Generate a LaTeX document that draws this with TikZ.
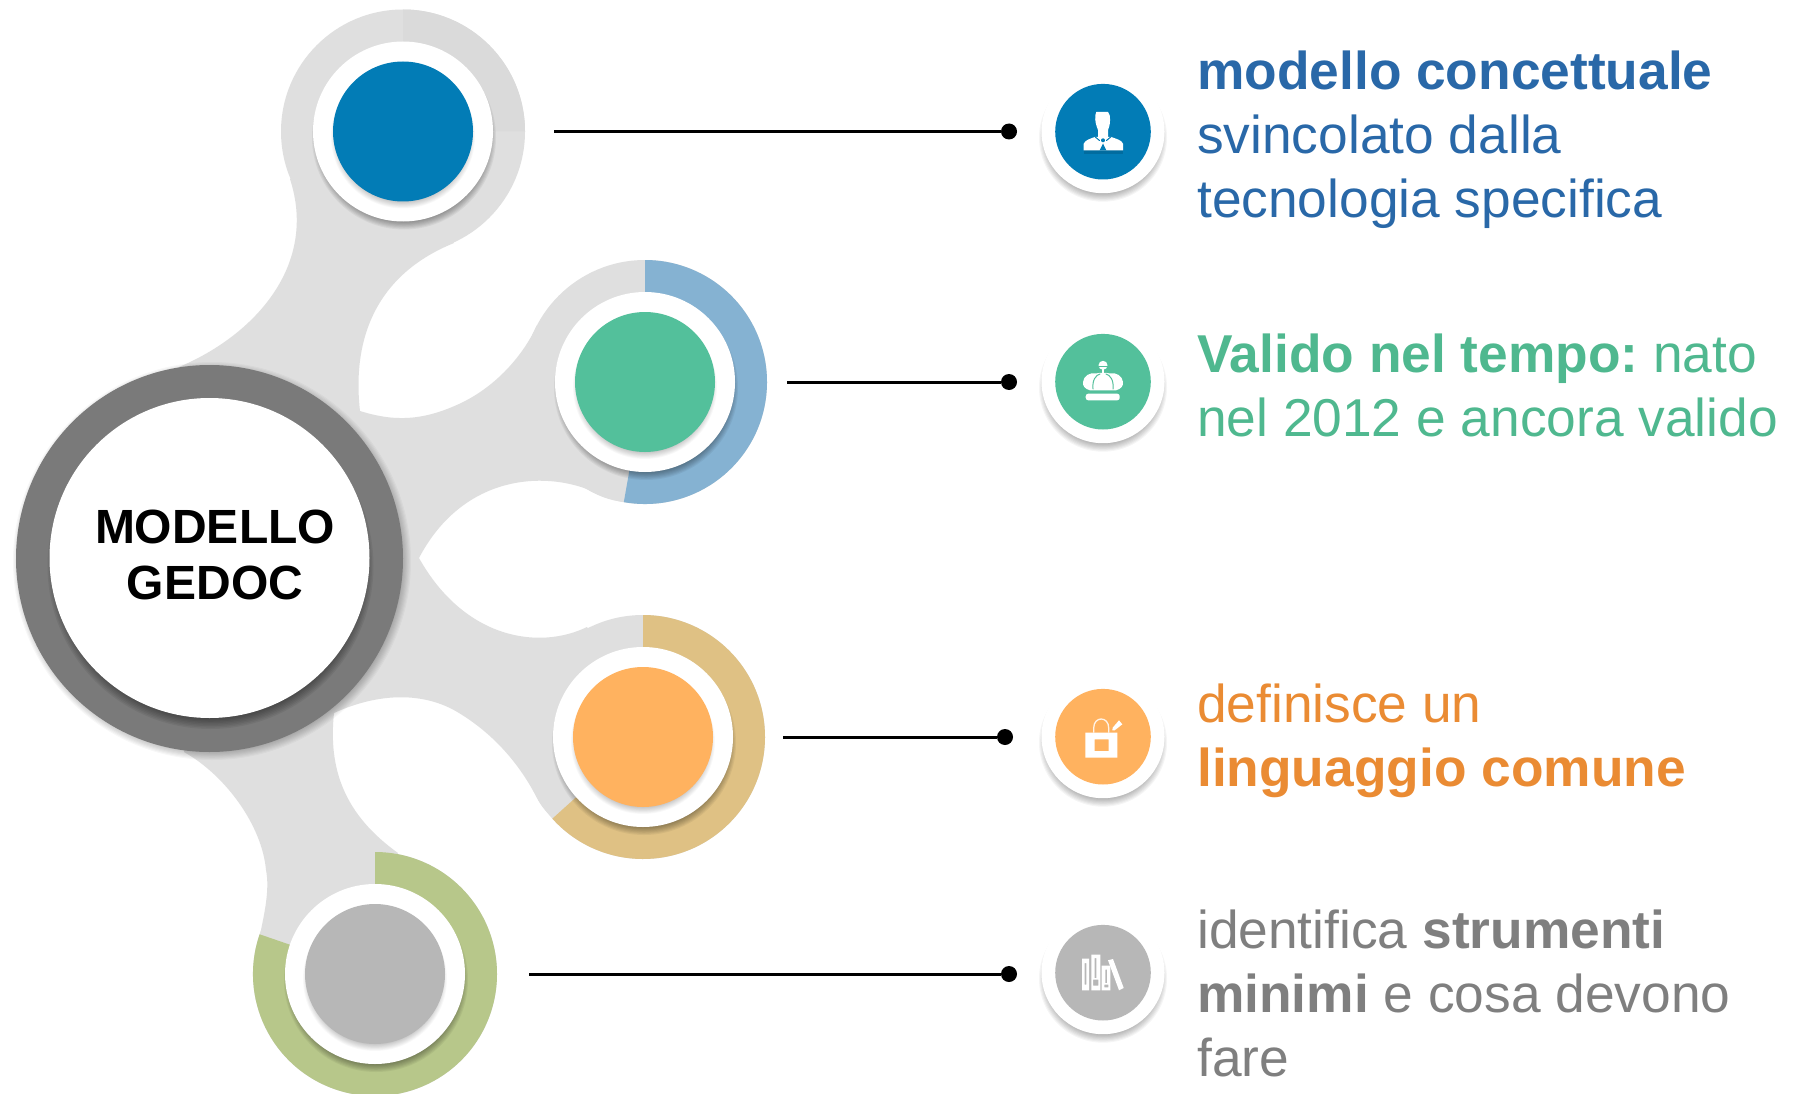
\documentclass[tikz,border=0pt]{standalone}
\usepackage{fontspec}
\setmainfont{Liberation Sans}
\usetikzlibrary{calc}
\definecolor{blobgray}{HTML}{DFDFDF}
\definecolor{quadgray}{HTML}{DADADA}
\definecolor{ringblue}{HTML}{85B2D2}
\definecolor{ringgold}{HTML}{DFC184}
\definecolor{ringgreen}{HTML}{B7C78A}
\definecolor{hubgray}{HTML}{7A7A7A}
\definecolor{dotblue}{HTML}{027CB6}
\definecolor{dotgreen}{HTML}{53C09B}
\definecolor{dotorange}{HTML}{FFB25F}
\definecolor{dotgray}{HTML}{B7B7B7}
\definecolor{txtblue}{HTML}{2968A8}
\definecolor{txtgreen}{HTML}{4FB88F}
\definecolor{txtorange}{HTML}{EA8B33}
\definecolor{txtgray}{HTML}{7F7F7F}
% soft drop shadow: stacked translucent discs
\newcommand{\softshadow}[5]{% x, y, radius, spread, opacity
  \foreach \sk in {0,...,9}{
    \fill[black,opacity=#5] ({#1},{#2}) circle ({#3+#4*(1-\sk/9)});
  }
}
\tikzset{
  x=1pt,y=-1pt,
  lead/.style={line width=3pt,black},
  enddot/.style={circle,fill=black,minimum size=16pt,inner sep=0pt,outer sep=0pt},
  bodytext/.style={anchor=north west,align=left,inner sep=0pt,font=\fontsize{53.3}{64}\selectfont},
  hubtext/.style={align=center,inner sep=0pt,font=\fontsize{48}{56}\selectfont\bfseries},
  mainhub/.style={circle,fill=white,inner sep=0pt,minimum size=320pt},
  cutline/.style={line width=1pt,line cap=round},
}
\newcommand{\ringfill}[5]{% cx, cy, start, end, colour (angles math convention, y is flipped)
  \fill[#5] ({#1+122*cos(#3)},{#2-122*sin(#3)}) arc[start angle=-#3,end angle=-#4,radius=122] -- ({#1},{#2}) -- cycle;
}
\begin{document}
\frenchspacing
\begin{tikzpicture}
\useasboundingbox (0,0) rectangle (1793,1094);
\fill[white] (0,0) rectangle (1793,1094);

% grey blob
\fill[blobgray]
  (290,179)
  .. controls (318,265) and (255,335) .. (179,367)
  -- (209,558) -- (184,752)
  .. controls (225,775) and (262,825) .. (266,870)
  .. controls (270,890) and (264,915) .. (260,935)
  -- (375,974) -- (398,853)
  .. controls (345,815) and (328,770) .. (334,713)
  .. controls (380,692) and (425,692) .. (459,713)
  .. controls (495,735) and (520,765) .. (537,798)
  .. controls (541,806) and (547,813) .. (553,818)
  -- (643,737)
  -- (587,627)
  .. controls (540,650) and (465,640) .. (419,558)
  .. controls (460,480) and (535,470) .. (587,489)
  .. controls (600,497) and (610,500) .. (623,502)
  -- (645,382) -- (537,325)
  .. controls (526,350) and (500,385) .. (459,404)
  .. controls (423,420.5) and (395,422) .. (360,411)
  .. controls (352,340) and (375,275) .. (454,243)
  -- (403,131.5) -- cycle;
\fill[blobgray] (403,131.5) circle (122);
\fill[blobgray] (645,382) circle (122);
\fill[blobgray] (643,737) circle (122);
\fill[blobgray] (375,974) circle (122);
\ringfill{403}{131.5}{0}{90}{quadgray}
\ringfill{645}{382}{-100}{90}{ringblue}
\ringfill{643}{737}{-138}{90}{ringgold}
\ringfill{375}{974}{-199}{90}{ringgreen}

% hub
\softshadow{212}{561}{189}{10}{0.03}
\fill[hubgray] (209.5,558.5) circle (193.5);
\softshadow{210.5}{566}{150}{13}{0.06}
\node[mainhub] (hub) at (209.5,558) {};
\node[hubtext] (hubt) at (215,555) {MODELLO\\GEDOC};

% satellite discs
\foreach \cx/\cy/\colr in {403/131.5/dotblue,645/382/dotgreen,643/737/dotorange,375/974/dotgray}{
  \softshadow{\cx+1}{\cy+6}{82}{10}{0.05}
  \fill[white] (\cx,\cy) circle (90);
  \softshadow{\cx}{\cy+5}{65}{7}{0.025}
  \fill[\colr] (\cx,\cy) circle (70);
}
\coordinate (sa) at (554,131.5);
\coordinate (sb) at (787,382);
\coordinate (sc) at (783,737);
\coordinate (sd) at (529,974);
\node[enddot] (ea) at (1009,131.5) {};
\node[enddot] (eb) at (1009,382) {};
\node[enddot] (ec) at (1005,737) {};
\node[enddot] (ed) at (1009,974) {};
\draw[lead] (sa) -- (ea);
\draw[lead] (sb) -- (eb);
\draw[lead] (sc) -- (ec);
\draw[lead] (sd) -- (ed);

% icon discs
\foreach \cx/\cy/\colr in {1103/131.7/dotblue,1103/381.7/dotgreen,1103/736.7/dotorange,1103/972.7/dotgray}{
  \softshadow{\cx}{\cy+6}{54}{10}{0.04}
  \fill[white] (\cx,\cy) circle (61.5);
  \fill[\colr] (\cx,\cy) circle (47.8);
}

% person icon
\begin{scope}[shift={(1103,132)}]
  \fill[black,opacity=.12] (-19.3,18.3) rectangle (20,22);
  \fill[white] (-7.7,-16.7) -- (-6.7,-20) -- (5,-20) -- (6.7,-16.7)
    .. controls (7.5,-11) and (7,-7) .. (5,-2) -- (5,6) -- (-5,6) -- (-5,-2)
    .. controls (-7,-7) and (-8.2,-11) .. (-7.7,-16.7) -- cycle;
  \fill[white] (-19.3,18.3) -- (-19.3,11.7) .. controls (-18,8) and (-12,6.5) .. (-8.3,5)
    -- (8.3,5) .. controls (12,6.5) and (19,8) .. (20,11.7) -- (20,18.3) -- cycle;
  \draw[dotblue,cutline] (-8,4.8) -- (-3.5,8.5);
  \draw[dotblue,cutline] (8,4.8) -- (3.5,8.5);
  \fill[dotblue] (0,8.3) circle (2);
  \fill[dotblue] (-3.3,18.3) -- (3.3,18.3) -- (0,11.5) -- cycle;
\end{scope}
% crown icon
\begin{scope}[shift={(1103,382)}]
  \fill[white] (0,-16.7) circle (4.5);
  \draw[dotgreen,line width=.8pt] (-4.5,-16) -- (4.5,-16);
  \draw[white,line width=1.2pt] (0,-13) -- (0,-8);
  \fill[white] (-13,8.3) .. controls (-18,7) and (-20.5,4) .. (-20,0)
    .. controls (-19.5,-6) and (-13,-10) .. (-7,-8.5)
    .. controls (-3,-9.5) and (3,-9.5) .. (7,-8.5)
    .. controls (13,-10) and (19.5,-6) .. (20,0)
    .. controls (20.5,4) and (18,7) .. (13,8.3) -- cycle;
  \draw[dotgreen,cutline] (-10,7) .. controls (-11,-2) and (-7,-7) .. (-3,-8);
  \draw[dotgreen,cutline] (10,7) .. controls (11,-2) and (7,-7) .. (3,-8);
  \fill[white,rounded corners=2.5pt] (-17.3,11.7) rectangle (16.7,18.3);
\end{scope}
% bag icon
\begin{scope}[shift={(1103,737)}]
  \draw[white,opacity=.85,line width=1.3pt] (-9.3,-4.3) -- (-9.3,-9) .. controls (-9.3,-21) and (5.7,-21) .. (5.7,-9) -- (5.7,-4.3);
  \fill[white,even odd rule] (-17.7,-4.3) rectangle (14.3,20.7) (-8.3,2.3) rectangle (5.7,14);
  \fill[white] (9.3,-6.7) -- (9.7,-9.3) -- (16,-16.7) -- (19.3,-12.7) -- (11.7,-6.7) -- cycle;
\end{scope}
% books icon
\begin{scope}[shift={(1103,973)}]
  \fill[white,even odd rule] (-21,-14.3) rectangle (-14,17.3) (-18.3,-10) rectangle (-16.7,11.7);
  \fill[white,even odd rule] (-11.7,-18.3) rectangle (-2.7,17.3) (-8.3,-15) rectangle (-6.7,5) (-10,6.7) rectangle (-4.7,12.7);
  \fill[white,even odd rule] (-1.3,-7.3) rectangle (7.3,17.3) (2.3,-3.3) rectangle (4,10) (1.3,11.7) rectangle (5.3,14.3);
  \fill[white] (5,-12.7) -- (10,-14) -- (20.7,15) -- (16,17.3) -- cycle;
\end{scope}

% texts
\node[bodytext,text=txtblue] (ta) at (1197,50.6) {\textbf{modello concettuale}\\svincolato dalla\\tecnologia specifica};
\node[bodytext,text=txtgreen] (tb) at (1197,333.6) {\textbf{Valido nel tempo:} nato\\nel 2012 e ancora valido};
\node[bodytext,text=txtorange] (tc) at (1197,683.6) {definisce un\\\textbf{linguaggio comune}};
\node[bodytext,text=txtgray] (td) at (1197,909.6) {identifica \textbf{strumenti}\\\textbf{minimi} e cosa devono\\fare};
\end{tikzpicture}
\end{document}
